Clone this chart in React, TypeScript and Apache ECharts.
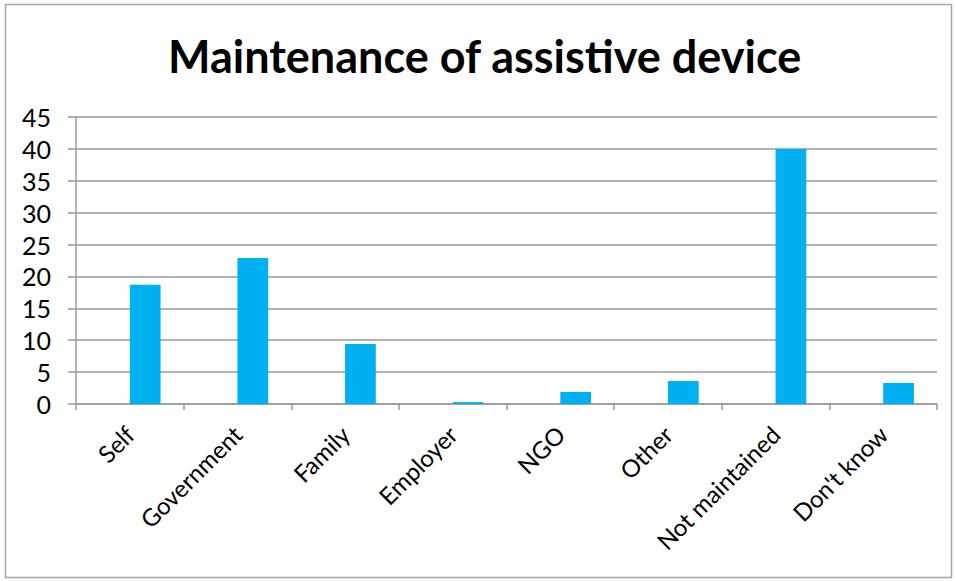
import React, { useEffect, useRef } from "react";
import * as echarts from "echarts";

const categories = ["Self", "Government", "Family", "Employer", "NGO", "Other", "Not maintained", "Don't know"];
const values = [18.7, 22.9, 9.4, 0.3, 1.9, 3.6, 40.0, 3.3];
// Empty first series of the original cluster (keeps the bar to the right of the category centre)
const spacerValues: (number | null)[] = [null, null, null, null, null, null, null, null];
const yTicks = { min: 0, max: 45, interval: 5 };

export default function App() {
  const ref = useRef<HTMLDivElement>(null);
  useEffect(() => {
    if (!ref.current) return;
    const chart = echarts.init(ref.current, null, { renderer: "svg" });
    const font = "Lato, 'Open Sans', sans-serif";
    chart.setOption({
      animation: false,
      backgroundColor: "#ffffff",
      title: {
        text: "Maintenance of assistive device",
        left: 163,
        top: 28,
        textStyle: { fontFamily: font, fontWeight: "bold", fontSize: 45, color: "#000" },
      },
      graphic: [
        {
          type: "rect",
          shape: { x: 5.5, y: 4.5, width: 946, height: 573 },
          style: { fill: "none", stroke: "#a6a6a6", lineWidth: 1.5 },
          silent: true,
        },
      ],
      grid: { left: 76, right: 19, top: 117, bottom: 177, containLabel: false },
      xAxis: {
        type: "category",
        data: categories,
        boundaryGap: true,
        axisLine: { lineStyle: { color: "#9a9a9a", width: 1.5 } },
        axisTick: { show: true, length: 6, alignWithLabel: false, lineStyle: { color: "#9a9a9a", width: 1.5 } },
        axisLabel: { rotate: 45, margin: 26, fontFamily: font, fontSize: 24, color: "#000", interval: 0 },
        splitLine: { show: false },
      },
      yAxis: {
        type: "value",
        min: yTicks.min,
        max: yTicks.max,
        interval: yTicks.interval,
        axisLine: { show: true, lineStyle: { color: "#9a9a9a", width: 1.5 } },
        axisTick: { show: true, length: 8, lineStyle: { color: "#9a9a9a", width: 1.5 } },
        axisLabel: { margin: 25, fontFamily: font, fontSize: 25, color: "#000" },
        splitLine: { show: true, lineStyle: { color: "#9a9a9a", width: 1.5 } },
      },
      series: [
        {
          type: "bar",
          data: spacerValues,
          barGap: "0%",
          barCategoryGap: "42.86%",
          itemStyle: { color: "transparent" },
          silent: true,
        },
        {
          type: "bar",
          data: values,
          barGap: "0%",
          barCategoryGap: "42.86%",
          itemStyle: { color: "#00b0f0" },
        },
      ],
    });
    return () => chart.dispose();
  }, []);
  return (
    <div
      ref={ref}
      style={{ position: "fixed", left: 0, top: 0, width: 956, height: 581 }}
    />
  );
}
